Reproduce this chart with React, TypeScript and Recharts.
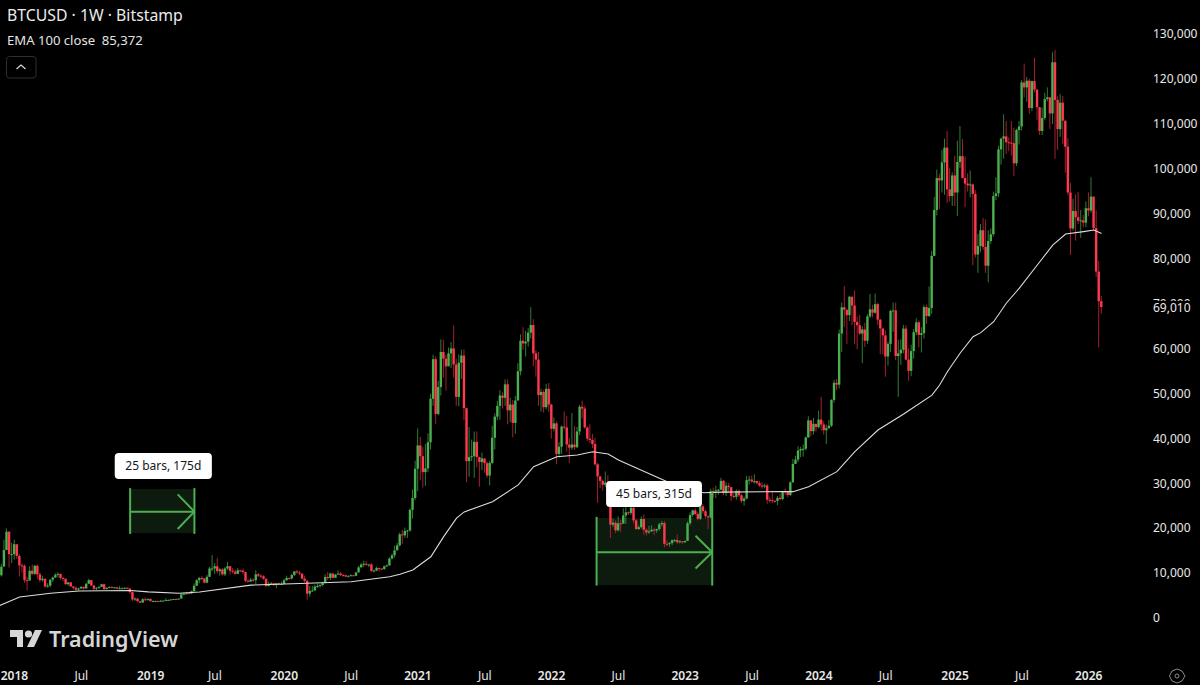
import React from "react";
import {
  ComposedChart,
  Bar,
  Line,
  XAxis,
  YAxis,
  ReferenceArea,
  ReferenceLine,
  Label,
} from "recharts";

// Weekly candles, thousands of USD. Each group is one calendar block of bars.
const close17 = [9.3, 11.2, 14.9, 19.0, 14.0, 14.0];
const high17 = [9.7, 11.8, 17.2, 19.7, 19.0, 16.5];
const low17 = [7.9, 9.0, 11.5, 15.0, 11.0, 12.0];

const close18 = [
  16.2, 13.6, 11.5, 11.4, 8.2, 8.1, 10.3, 9.6, 11.4, 9.5,
  8.2, 8.5, 6.8, 7.0, 8.3, 8.8, 9.4, 9.6, 8.7, 8.5,
  7.3, 7.7, 6.8, 6.5, 6.1, 6.35, 6.7, 6.35, 7.4, 8.2,
  7.0, 6.3, 6.5, 6.7, 7.3, 6.2, 6.5, 6.7, 6.6, 6.6,
  6.3, 6.4, 6.4, 6.5, 6.35, 5.55, 3.9, 4.1, 3.5, 3.2,
  3.95, 3.8, 4.05,
];
const high18 = [
  17.2, 15.0, 14.0, 11.9, 11.7, 9.0, 11.3, 11.7, 11.6, 11.7,
  9.9, 9.2, 8.6, 7.5, 8.4, 9.0, 9.75, 10.0, 9.7, 8.9,
  8.6, 7.8, 7.8, 6.9, 6.8, 6.5, 6.85, 6.8, 7.6, 8.5,
  8.3, 7.2, 6.6, 6.9, 7.4, 7.4, 6.6, 6.8, 6.8, 6.7,
  6.7, 6.9, 6.6, 6.6, 6.6, 6.4, 5.6, 4.4, 4.2, 3.6,
  4.2, 4.4, 4.1,
];
const low18 = [
  12.8, 12.9, 9.0, 9.9, 7.6, 5.9, 8.2, 9.3, 9.4, 8.4,
  7.7, 7.9, 6.5, 6.5, 6.6, 7.8, 8.7, 8.8, 8.3, 7.9,
  7.2, 7.0, 6.7, 6.1, 5.8, 5.8, 6.3, 6.1, 6.3, 7.4,
  6.9, 5.9, 5.9, 6.3, 6.7, 6.1, 6.2, 6.3, 6.4, 6.4,
  6.2, 6.2, 6.3, 6.2, 6.3, 5.2, 3.5, 3.6, 3.3, 3.1,
  3.2, 3.6, 3.6,
];

const close19 = [
  3.52, 3.55, 3.55, 3.45, 3.65, 3.65, 3.8, 3.8, 3.93, 4.0,
  3.98, 4.1, 5.05, 5.15, 5.3, 5.25, 5.75, 6.95, 8.2, 8.7,
  8.6, 7.65, 8.95, 10.8, 10.8, 11.3, 10.2, 10.6, 9.5, 10.8,
  11.3, 10.3, 10.1, 9.6, 10.4, 10.3, 10.0, 8.05, 7.9, 8.3,
  8.2, 9.5, 9.2, 9.05, 8.5, 6.9, 7.4, 7.5, 7.1, 7.5,
  7.3, 7.35,
];
const high19 = [
  4.1, 3.7, 3.65, 3.6, 3.7, 3.72, 4.2, 3.9, 3.98, 4.05,
  4.1, 4.15, 5.3, 5.45, 5.6, 5.6, 5.85, 7.5, 8.4, 8.9,
  9.1, 8.1, 9.4, 11.2, 13.8, 12.0, 13.2, 10.9, 10.9, 11.1,
  12.3, 11.1, 10.9, 10.6, 10.9, 10.5, 10.8, 10.1, 8.5, 8.7,
  8.6, 10.4, 9.8, 9.5, 9.3, 8.5, 7.9, 7.8, 7.6, 7.6,
  7.7, 7.9,
];
const low19 = [
  3.45, 3.5, 3.45, 3.35, 3.4, 3.6, 3.6, 3.7, 3.72, 3.85,
  3.9, 3.9, 4.1, 4.9, 5.0, 5.2, 5.1, 5.7, 6.9, 7.5,
  8.2, 7.5, 7.5, 8.9, 10.2, 9.6, 9.7, 9.2, 9.2, 9.1,
  10.5, 9.5, 9.7, 9.4, 9.6, 10.0, 9.6, 7.7, 7.7, 7.8,
  7.9, 7.3, 8.9, 8.7, 8.3, 6.6, 6.8, 7.2, 6.9, 6.4,
  7.1, 7.1,
];

const close20 = [
  8.18, 8.7, 8.6, 9.35, 10.15, 9.9, 9.65, 8.53, 8.05, 5.2,
  5.8, 5.9, 6.77, 6.9, 7.12, 7.54, 8.9, 8.7, 9.67, 8.72,
  9.44, 9.67, 9.33, 9.3, 9.0, 9.07, 9.3, 9.17, 9.93, 11.05,
  11.68, 11.85, 11.65, 11.7, 10.25, 10.33, 10.93, 10.77, 10.67, 11.3,
  11.5, 13.0, 13.75, 14.83, 15.95, 18.4, 18.18, 19.15, 19.25, 23.86,
  26.5, 33.0,
];
const high20 = [
  8.5, 9.2, 8.8, 9.6, 10.2, 10.5, 10.2, 9.7, 9.2, 8.2,
  6.9, 6.9, 7.2, 7.45, 7.3, 7.8, 9.5, 10.0, 9.9, 9.8,
  9.6, 10.4, 10.0, 9.6, 9.4, 9.3, 9.5, 9.4, 9.95, 11.4,
  12.0, 12.5, 12.4, 11.8, 12.0, 10.6, 11.2, 10.95, 10.9, 11.45,
  11.7, 13.3, 14.1, 15.9, 16.5, 18.8, 19.4, 19.9, 19.4, 24.2,
  28.4, 34.8,
];
const low20 = [
  7.35, 8.1, 8.3, 8.3, 9.1, 9.7, 9.3, 8.4, 7.65, 3.85,
  4.5, 5.7, 5.9, 6.5, 6.5, 6.8, 7.5, 8.2, 8.2, 8.7,
  8.8, 9.4, 9.1, 9.0, 8.9, 8.9, 9.1, 9.05, 9.1, 9.9,
  11.0, 11.1, 11.4, 11.1, 10.0, 9.9, 10.2, 10.1, 10.4, 10.5,
  11.2, 11.4, 12.8, 13.2, 14.9, 15.7, 16.3, 17.6, 17.6, 19.0,
  21.9, 26.0,
];

const close21 = [
  38.2, 35.8, 32.25, 33.1, 38.9, 48.6, 57.4, 45.2, 51.2, 59.0,
  57.5, 55.8, 58.7, 59.8, 56.2, 49.0, 56.6, 58.2, 46.5, 34.7,
  35.6, 35.8, 39.0, 35.6, 34.5, 35.3, 34.25, 31.5, 34.3, 39.9,
  44.6, 47.0, 49.3, 48.8, 51.8, 46.0, 47.3, 43.2, 48.2, 54.7,
  61.5, 60.9, 61.3, 63.3, 65.0, 58.7, 57.3, 49.4, 50.1, 46.7,
  50.8, 47.3,
];
const high21 = [
  42.0, 40.1, 37.8, 38.5, 40.9, 49.7, 58.4, 58.0, 52.6, 61.8,
  61.7, 58.4, 60.0, 61.2, 64.9, 57.5, 58.5, 59.5, 59.6, 46.0,
  42.3, 39.5, 41.3, 41.3, 35.7, 36.6, 35.2, 34.6, 34.8, 42.6,
  45.3, 48.1, 50.5, 50.0, 52.9, 52.9, 48.8, 48.3, 49.2, 56.5,
  62.9, 64.5, 63.7, 64.3, 69.0, 66.3, 59.4, 59.0, 50.8, 50.5,
  51.9, 52.1,
];
const low21 = [
  28.0, 30.4, 28.8, 29.2, 32.3, 37.3, 47.0, 43.0, 44.9, 49.3,
  53.3, 50.4, 56.6, 55.4, 53.3, 47.0, 46.9, 53.0, 43.8, 30.0,
  31.2, 34.7, 31.0, 33.3, 29.0, 32.7, 32.1, 31.0, 29.3, 34.0,
  37.3, 43.8, 43.9, 46.4, 47.0, 42.9, 43.4, 40.0, 40.8, 48.2,
  53.8, 59.5, 58.0, 60.2, 62.0, 55.8, 53.5, 47.0, 45.7, 45.5,
  46.2, 45.7,
];

const close22 = [
  41.9, 43.1, 36.3, 37.9, 42.4, 42.2, 38.4, 37.7, 38.4, 37.8,
  41.3, 46.8, 46.4, 42.2, 39.7, 39.4, 38.5, 34.0, 31.3, 30.3,
  29.45, 29.9, 26.6, 20.55, 21.0, 19.3, 20.85, 20.8, 22.6, 23.3,
  23.17, 24.3, 21.5, 19.55, 20.0, 21.8, 19.4, 18.8, 19.05, 19.44,
  19.26, 19.57, 20.63, 20.92, 16.3, 16.28, 16.45, 17.1, 17.13, 16.63,
  16.84, 16.61,
];
const high22 = [
  47.5, 44.4, 43.5, 38.9, 42.6, 45.8, 44.7, 39.8, 45.4, 42.5,
  42.3, 47.2, 48.2, 47.0, 42.4, 42.9, 40.8, 39.9, 34.3, 31.4,
  30.6, 32.4, 31.6, 27.0, 21.9, 21.5, 22.4, 21.6, 24.2, 24.6,
  23.5, 25.2, 25.2, 21.8, 20.4, 22.4, 22.8, 19.7, 20.3, 20.4,
  19.9, 19.7, 21.0, 21.4, 21.4, 17.1, 16.7, 17.3, 17.4, 18.4,
  17.1, 16.9,
];
const low22 = [
  39.7, 41.3, 34.0, 35.5, 36.3, 41.7, 36.8, 34.3, 37.2, 37.2,
  37.6, 40.5, 44.2, 41.9, 39.2, 38.7, 37.6, 33.7, 25.4, 28.7,
  28.1, 28.9, 26.6, 17.6, 20.0, 18.7, 19.0, 18.9, 20.8, 20.7,
  22.7, 22.7, 20.8, 19.5, 19.5, 19.7, 18.3, 18.1, 18.5, 19.0,
  18.2, 18.7, 19.2, 20.1, 15.5, 15.8, 15.6, 16.0, 16.7, 16.3,
  16.4, 16.3,
];

const close23 = [
  16.95, 20.87, 22.7, 23.74, 22.93, 21.86, 24.63, 23.56, 22.43, 22.16,
  28.0, 27.99, 28.18, 28.33, 30.3, 27.59, 29.23, 28.9, 26.92, 26.75,
  28.07, 27.1, 25.85, 26.34, 30.48, 30.6, 30.17, 30.25, 29.79, 29.28,
  29.04, 29.28, 26.1, 26.01, 25.87, 25.83, 26.53, 26.25, 27.97, 27.94,
  27.16, 29.99, 34.08, 35.04, 37.06, 37.38, 37.46, 39.97, 43.78, 41.36,
  43.0, 42.28,
];
const high23 = [
  17.0, 21.3, 23.3, 23.9, 24.2, 23.4, 25.2, 25.1, 23.9, 22.6,
  28.5, 28.8, 29.2, 28.5, 31.0, 30.5, 30.0, 29.9, 29.0, 27.6,
  28.4, 28.4, 27.4, 26.8, 31.4, 31.4, 31.5, 31.8, 30.3, 30.3,
  30.0, 29.7, 29.7, 26.8, 28.1, 26.0, 26.9, 27.5, 28.0, 28.6,
  28.0, 30.2, 35.2, 35.9, 38.0, 37.9, 38.4, 40.2, 44.7, 43.4,
  44.3, 43.0,
];
const low23 = [
  16.5, 16.9, 20.4, 22.3, 22.6, 21.5, 21.6, 23.0, 21.9, 19.6,
  21.9, 26.6, 26.5, 27.2, 28.2, 27.1, 26.9, 27.7, 25.8, 26.4,
  26.1, 26.7, 25.4, 24.8, 26.2, 29.5, 29.9, 29.7, 29.5, 29.0,
  28.6, 28.7, 25.2, 25.4, 25.4, 25.4, 24.9, 26.0, 26.0, 27.2,
  26.6, 26.9, 29.9, 34.1, 34.5, 35.6, 35.7, 37.1, 39.9, 40.2,
  40.6, 41.3,
];

const close24 = [
  43.95, 42.85, 41.58, 42.03, 42.58, 48.3, 52.14, 51.73, 63.1, 68.95,
  68.4, 67.2, 71.3, 69.35, 65.7, 64.95, 63.1, 64.0, 61.5, 66.9,
  68.5, 67.75, 69.65, 66.2, 64.25, 62.7, 58.0, 60.8, 68.15, 68.25,
  58.1, 58.7, 59.5, 64.2, 57.3, 54.8, 59.2, 63.4, 65.6, 62.8,
  63.2, 69.0, 67.0, 68.8, 80.4, 90.6, 97.7, 97.2, 101.2, 104.5,
  95.2, 93.7, 98.3,
];
const high24 = [
  45.9, 49.0, 43.6, 42.8, 43.9, 48.5, 52.8, 53.0, 64.0, 70.0,
  73.7, 68.0, 71.5, 71.3, 72.7, 66.9, 67.2, 64.7, 65.5, 67.4,
  71.9, 69.5, 72.0, 70.0, 66.4, 63.4, 63.8, 61.3, 68.4, 70.0,
  70.0, 61.7, 61.8, 65.0, 65.0, 59.8, 60.6, 64.1, 66.5, 66.0,
  64.5, 69.5, 69.5, 73.6, 81.5, 93.5, 99.6, 98.7, 104.0, 106.5,
  108.2, 99.9, 99.0,
];
const low24 = [
  42.0, 41.5, 40.6, 38.5, 41.9, 42.3, 47.7, 50.5, 50.9, 59.0,
  64.6, 60.8, 65.9, 65.0, 60.7, 59.6, 62.8, 56.5, 60.1, 60.8,
  66.6, 66.7, 67.5, 65.0, 58.5, 58.4, 53.5, 56.0, 59.0, 63.5,
  57.2, 49.0, 56.1, 58.7, 57.2, 52.6, 53.6, 57.5, 62.7, 60.0,
  58.9, 62.0, 65.3, 66.8, 67.5, 80.3, 89.4, 90.8, 94.5, 94.0,
  92.2, 92.5, 91.5,
];

const close25 = [
  94.5, 101.3, 102.6, 97.7, 96.5, 96.1, 96.3, 94.2, 80.7, 82.6,
  86.1, 82.4, 78.2, 83.7, 85.2, 93.7, 94.3, 104.1, 106.5, 107.0,
  105.7, 105.6, 105.5, 101.0, 108.4, 109.2, 119.0, 117.9, 119.4, 113.3,
  119.3, 117.4, 113.5, 108.2, 111.1, 115.3, 115.7, 112.1, 123.5, 115.1,
  108.6, 114.5, 110.5, 104.7, 94.5, 86.5, 90.4, 89.0, 88.2, 88.3,
  87.8, 91.0,
];
const high25 = [
  102.7, 106.0, 109.3, 106.4, 102.5, 98.8, 99.4, 96.5, 95.0, 85.3,
  87.5, 88.8, 88.5, 86.1, 86.5, 94.7, 97.9, 104.9, 106.7, 111.9,
  110.4, 106.8, 110.4, 108.9, 108.7, 110.4, 119.5, 123.2, 120.2, 119.8,
  119.4, 124.5, 117.6, 113.5, 113.4, 116.7, 117.9, 113.4, 125.7, 126.2,
  115.9, 116.4, 116.0, 107.5, 106.6, 96.7, 93.1, 94.1, 94.6, 90.6,
  89.5, 92.5,
];
const low25 = [
  91.5, 89.3, 100.0, 97.8, 91.2, 94.7, 93.4, 78.3, 80.0, 76.6,
  81.2, 81.7, 76.6, 74.5, 83.1, 84.7, 92.8, 93.5, 100.7, 102.0,
  103.1, 103.7, 102.7, 98.2, 100.4, 105.2, 108.3, 115.7, 114.7, 112.0,
  112.6, 116.8, 110.7, 107.3, 107.3, 110.6, 114.8, 108.6, 109.7, 102.0,
  104.0, 106.9, 105.3, 98.9, 93.9, 80.6, 86.0, 83.8, 87.5, 84.4,
  86.7, 86.8,
];

const close26 = [90.5, 93.6, 86.6, 76.9, 70.3, 69.01];
const high26 = [94.5, 97.9, 90.4, 90.5, 79.3, 71.5];
const low26 = [89.2, 90.0, 86.0, 75.7, 60.0, 67.5];

const firstOpen = 8.0;

// EMA 100 at these bars
const emaBars = [
  0, 8, 20, 31, 51, 58, 70, 78, 98, 117, 137, 152, 156, 161, 168, 173, 178, 181, 192, 202, 208,
  217, 225, 231, 237, 241, 260, 274, 281, 304, 309, 315, 326, 333, 342, 352, 363, 366, 369,
  374, 379, 382, 387, 392, 397, 404, 410, 415, 422, 426, 429,
];
const emaValues = [
  2500, 4450, 5300, 5800, 5900, 5600, 5300, 5560, 7100, 7450, 7860, 8970, 9500, 10460, 13400,
  17900, 22000, 23400, 25670, 29400, 33450, 35680, 36060, 36800, 36290, 34950, 30100, 27670,
  27800, 27900, 27900, 29000, 32350, 36800, 41630, 45190, 49400, 51650, 54600, 58770, 62400,
  63300, 65740, 69900, 73200, 78360, 82800, 85260, 85800, 86150, 85372,
];

const priceTicks = [
  0, 10000, 20000, 30000, 40000, 50000, 60000, 70000, 80000, 90000, 100000, 110000, 120000,
  130000, 69010,
];
const timeTickBars = [
  6, 32, 59, 84, 111, 137, 163, 189, 215, 241, 267, 293, 319, 345, 372, 398, 424,
];
const timeTickLabels = [
  "2018", "Jul", "2019", "Jul", "2020", "Jul", "2021", "Jul", "2022", "Jul", "2023", "Jul",
  "2024", "Jul", "2025", "Jul", "2026",
];

const closes = [...close17, ...close18, ...close19, ...close20, ...close21, ...close22, ...close23, ...close24, ...close25, ...close26];
const highs = [...high17, ...high18, ...high19, ...high20, ...high21, ...high22, ...high23, ...high24, ...high25, ...high26];
const lows = [...low17, ...low18, ...low19, ...low20, ...low21, ...low22, ...low23, ...low24, ...low25, ...low26];

const rows = closes.map((c, i) => {
  const at = emaBars.indexOf(i);
  return {
    i,
    open: (i === 0 ? firstOpen : closes[i - 1]) * 1000,
    close: c * 1000,
    high: highs[i] * 1000,
    low: lows[i] * 1000,
    range: [lows[i] * 1000, highs[i] * 1000],
    ema: at >= 0 ? emaValues[at] : null,
  };
});

const UI_FONT = '"Noto Sans", sans-serif';
const GREEN = "#4caf50";
const RED = "#ff3a4e";

function Candle(props: any) {
  const { x, y, width, height, payload } = props;
  if (height == null || !payload) return null;
  const span = payload.high - payload.low || 1;
  const perUnit = height / span;
  const yOpen = y + (payload.high - payload.open) * perUnit;
  const yClose = y + (payload.high - payload.close) * perUnit;
  const up = payload.close >= payload.open;
  const top = Math.min(yOpen, yClose);
  const h = Math.max(Math.abs(yOpen - yClose), 1);
  const cx = x + width / 2;
  return (
    <g>
      <line x1={cx} x2={cx} y1={y} y2={y + height} stroke={up ? "#2f7d33" : "#a3202f"} strokeWidth={1} />
      <rect x={cx - 1.2} y={top} width={2.4} height={h} fill={up ? GREEN : RED} />
    </g>
  );
}

function PriceTick(props: any) {
  const { x, y, payload } = props;
  const v = payload.value;
  const isLast = v === 69010;
  return (
    <g>
      {isLast && <rect x={x - 6} y={y - 6} width={60} height={16} fill="#000" />}
      <text x={x} y={y + 1} dy="0.36em" fontFamily={UI_FONT} fontSize={12} fill="#e8e8e8">
        {v.toLocaleString("en-US")}
      </text>
    </g>
  );
}

function TimeTick(props: any) {
  const { x, payload } = props;
  const label = timeTickLabels[timeTickBars.indexOf(payload.value)];
  const isYear = label !== "Jul";
  return (
    <text
      x={x}
      y={676}
      dy="0.36em"
      textAnchor="middle"
      fontFamily={UI_FONT}
      fontSize={12}
      fontWeight={isYear ? 600 : 400}
      fill="#e8e8e8"
    >
      {label}
    </text>
  );
}

const BOX_FILL = "#0d1a0e";
const ARROW = { stroke: GREEN, strokeWidth: 2 };

export default function App() {
  return (
    <div style={{ position: "fixed", left: 0, top: 0, width: 1200, height: 685, background: "#000", overflow: "hidden" }}>
      <ComposedChart
        width={1200}
        height={685}
        data={rows}
        margin={{ top: 0, right: 0, bottom: 0, left: 0 }}
        barCategoryGap={0}
      >
        <XAxis
          dataKey="i"
          type="number"
          domain={[0.358, 445.9]}
          allowDataOverflow
          ticks={timeTickBars}
          interval={0}
          height={29}
          axisLine={false}
          tickLine={false}
          tick={<TimeTick />}
        />
        <YAxis
          orientation="right"
          width={55}
          type="number"
          domain={[-8682, 137355]}
          allowDataOverflow
          ticks={priceTicks}
          interval={0}
          axisLine={false}
          tickLine={false}
          tickSize={0}
          tickMargin={8}
          tick={<PriceTick />}
        />

        <ReferenceArea x1={51} x2={76} y1={18700} y2={28500} fill={BOX_FILL} fillOpacity={1} stroke="none" />
        <ReferenceArea x1={232.5} x2={277.5} y1={7120} y2={22040} fill={BOX_FILL} fillOpacity={1} stroke="none" />

        <Bar dataKey="range" barSize={2} isAnimationActive={false} shape={<Candle />} />
        <Line
          dataKey="ema"
          type="linear"
          connectNulls
          dot={false}
          stroke="#dcdcdc"
          strokeWidth={1.1}
          isAnimationActive={false}
        />

        <ReferenceLine segment={[{ x: 51, y: 18500 }, { x: 51, y: 28700 }]} {...ARROW} />
        <ReferenceLine segment={[{ x: 76, y: 18500 }, { x: 76, y: 28700 }]} {...ARROW} />
        <ReferenceLine segment={[{ x: 51, y: 23450 }, { x: 76, y: 23450 }]} {...ARROW} />
        <ReferenceLine segment={[{ x: 69.5, y: 27300 }, { x: 76, y: 23450 }]} {...ARROW} />
        <ReferenceLine segment={[{ x: 69.5, y: 19600 }, { x: 76, y: 23450 }]} {...ARROW} />

        <ReferenceLine segment={[{ x: 232.5, y: 7000 }, { x: 232.5, y: 22300 }]} {...ARROW} />
        <ReferenceLine segment={[{ x: 277.5, y: 7000 }, { x: 277.5, y: 28000 }]} {...ARROW} />
        <ReferenceLine segment={[{ x: 232.5, y: 14400 }, { x: 277.5, y: 14400 }]} {...ARROW} />
        <ReferenceLine segment={[{ x: 271, y: 18100 }, { x: 277.5, y: 14400 }]} {...ARROW} />
        <ReferenceLine segment={[{ x: 271, y: 10800 }, { x: 277.5, y: 14400 }]} {...ARROW} />

        <ReferenceArea
          x1={45}
          x2={82.8}
          y1={30700}
          y2={36500}
          fill="#ffffff"
          fillOpacity={1}
          stroke="none"
          radius={4}
          zIndex={1500}
        >
          <Label value="25 bars, 175d" position="center" fill="#131722" fontFamily={UI_FONT} fontSize={12} zIndex={1600} />
        </ReferenceArea>
        <ReferenceArea
          x1={236.2}
          x2={273.5}
          y1={24500}
          y2={30300}
          fill="#ffffff"
          fillOpacity={1}
          stroke="none"
          radius={4}
          zIndex={1500}
        >
          <Label value="45 bars, 315d" position="center" fill="#131722" fontFamily={UI_FONT} fontSize={12} zIndex={1600} />
        </ReferenceArea>
      </ComposedChart>

      <div style={{ position: "absolute", left: 7, top: 5, fontFamily: UI_FONT, fontSize: 15.8, lineHeight: "20px", color: "#ececec", whiteSpace: "pre" }}>
        BTCUSD · 1W · Bitstamp
      </div>
      <div style={{ position: "absolute", left: 7, top: 32, fontFamily: UI_FONT, fontSize: 13.1, lineHeight: "17px", color: "#e4e4e4", whiteSpace: "pre" }}>
        EMA 100 close  85,372
      </div>

      <svg width={1200} height={685} style={{ position: "absolute", left: 0, top: 0, pointerEvents: "none" }}>
        <rect x={6.5} y={56.5} width={29.5} height={21.5} rx={3} fill="none" stroke="#2e2e2e" />
        <path d="M16.5 69 L21 65 L25.5 69" fill="none" stroke="#d8d8d8" strokeWidth={1.2} />
        <path d="M10 630 H23 V647 H17 V637 H10 Z" fill="#d6d6d6" />
        <circle cx={28.5} cy={634} r={3.6} fill="#d6d6d6" />
        <path d="M35 630 H42 L34 647 H27 Z" fill="#d6d6d6" />
        <text x={49} y={647} fontFamily={UI_FONT} fontSize={21.5} fontWeight={600} fill="#d6d6d6">
          TradingView
        </text>
        <path d="M1172 671 L1177 669 L1182 671 L1185 676 L1182 681 L1177 683 L1172 681 L1169.500 676 Z" fill="none" stroke="#8a8a8a" />
        <circle cx={1177} cy={676} r={2} fill="none" stroke="#8a8a8a" />
      </svg>
    </div>
  );
}
